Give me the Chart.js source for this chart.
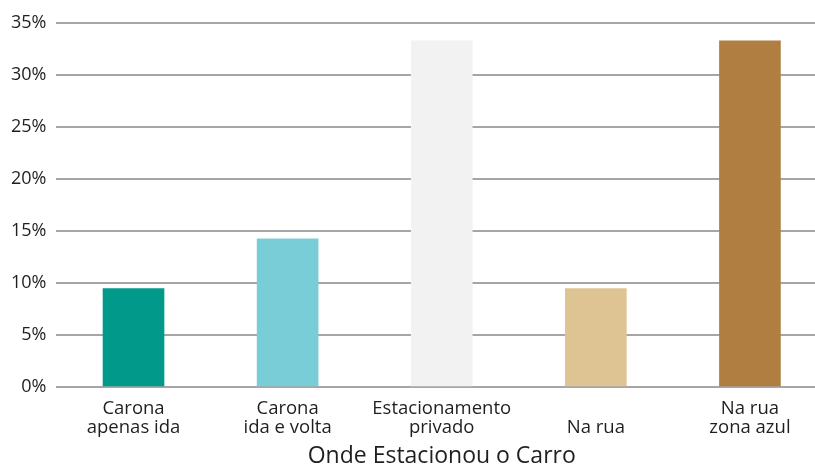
<!DOCTYPE html>
<html>
<head>
<meta charset="utf-8">
<script src="https://cdn.jsdelivr.net/npm/chart.js@4"></script>
<style>
  html, body { margin: 0; padding: 0; background: #fff; overflow: hidden; }
  #wrap { width: 835px; height: 470px; }
</style>
</head>
<body>
<div id="wrap"><canvas id="myChart"></canvas></div>
<script>
// data
var categories = [
    ['Carona', 'apenas ida'],
    ['Carona', 'ida e volta'],
    ['Estacionamento', 'privado'],
    ['', 'Na rua'],
    ['Na rua', 'zona azul']
];
var percentValues = [9.52, 14.29, 33.33, 9.52, 33.33];
var barColors = ['#00998a', '#78cdd7', '#f2f2f2', '#dfc493', '#b17e41'];
var yTicks = [0, 5, 10, 15, 20, 25, 30, 35];
var xTitle = 'Onde Estacionou o Carro';

var fontName = "'Open Sans', sans-serif";
var textColor = '#1f1f1f';
var gridColor = '#a6a6a6';

var ctx = document.getElementById('myChart').getContext('2d');
var chartObj = {
    type: 'bar',
    data: {
        labels: categories,
        datasets: [{
            label: 'Onde Estacionou o Carro',
            data: percentValues,
            backgroundColor: barColors,
            borderWidth: 0,
            barPercentage: 0.4,
            categoryPercentage: 1
        }]
    },
    options: {
        responsive: true,
        maintainAspectRatio: false,
        animation: false,
        layout: { padding: { left: 1, top: 23, right: 8, bottom: 0 } },
        plugins: {
            legend: { display: false },
            tooltip: { enabled: false }
        },
        scales: {
            x: {
                grid: { display: false, drawTicks: false },
                border: { display: false },
                ticks: {
                    color: textColor,
                    maxRotation: 0,
                    autoSkip: false,
                    padding: 12,
                    font: { family: fontName, size: 18.5, lineHeight: 1.03 }
                },
                title: {
                    display: true,
                    text: xTitle,
                    color: textColor,
                    padding: { top: -7, bottom: 0 },
                    font: { family: fontName, size: 23 }
                }
            },
            y: {
                min: 0,
                max: 35,
                afterBuildTicks: function(scale) {
                    scale.ticks = yTicks.map(function(v) { return { value: v }; });
                },
                grid: { color: gridColor, lineWidth: 2, drawTicks: false },
                border: { display: false },
                ticks: {
                    color: textColor,
                    padding: 10,
                    font: { family: fontName, size: 18 },
                    callback: function(v) { return v + '%'; }
                }
            }
        }
    }
};
var chart = new Chart(ctx, chartObj);
</script>
</body>
</html>
